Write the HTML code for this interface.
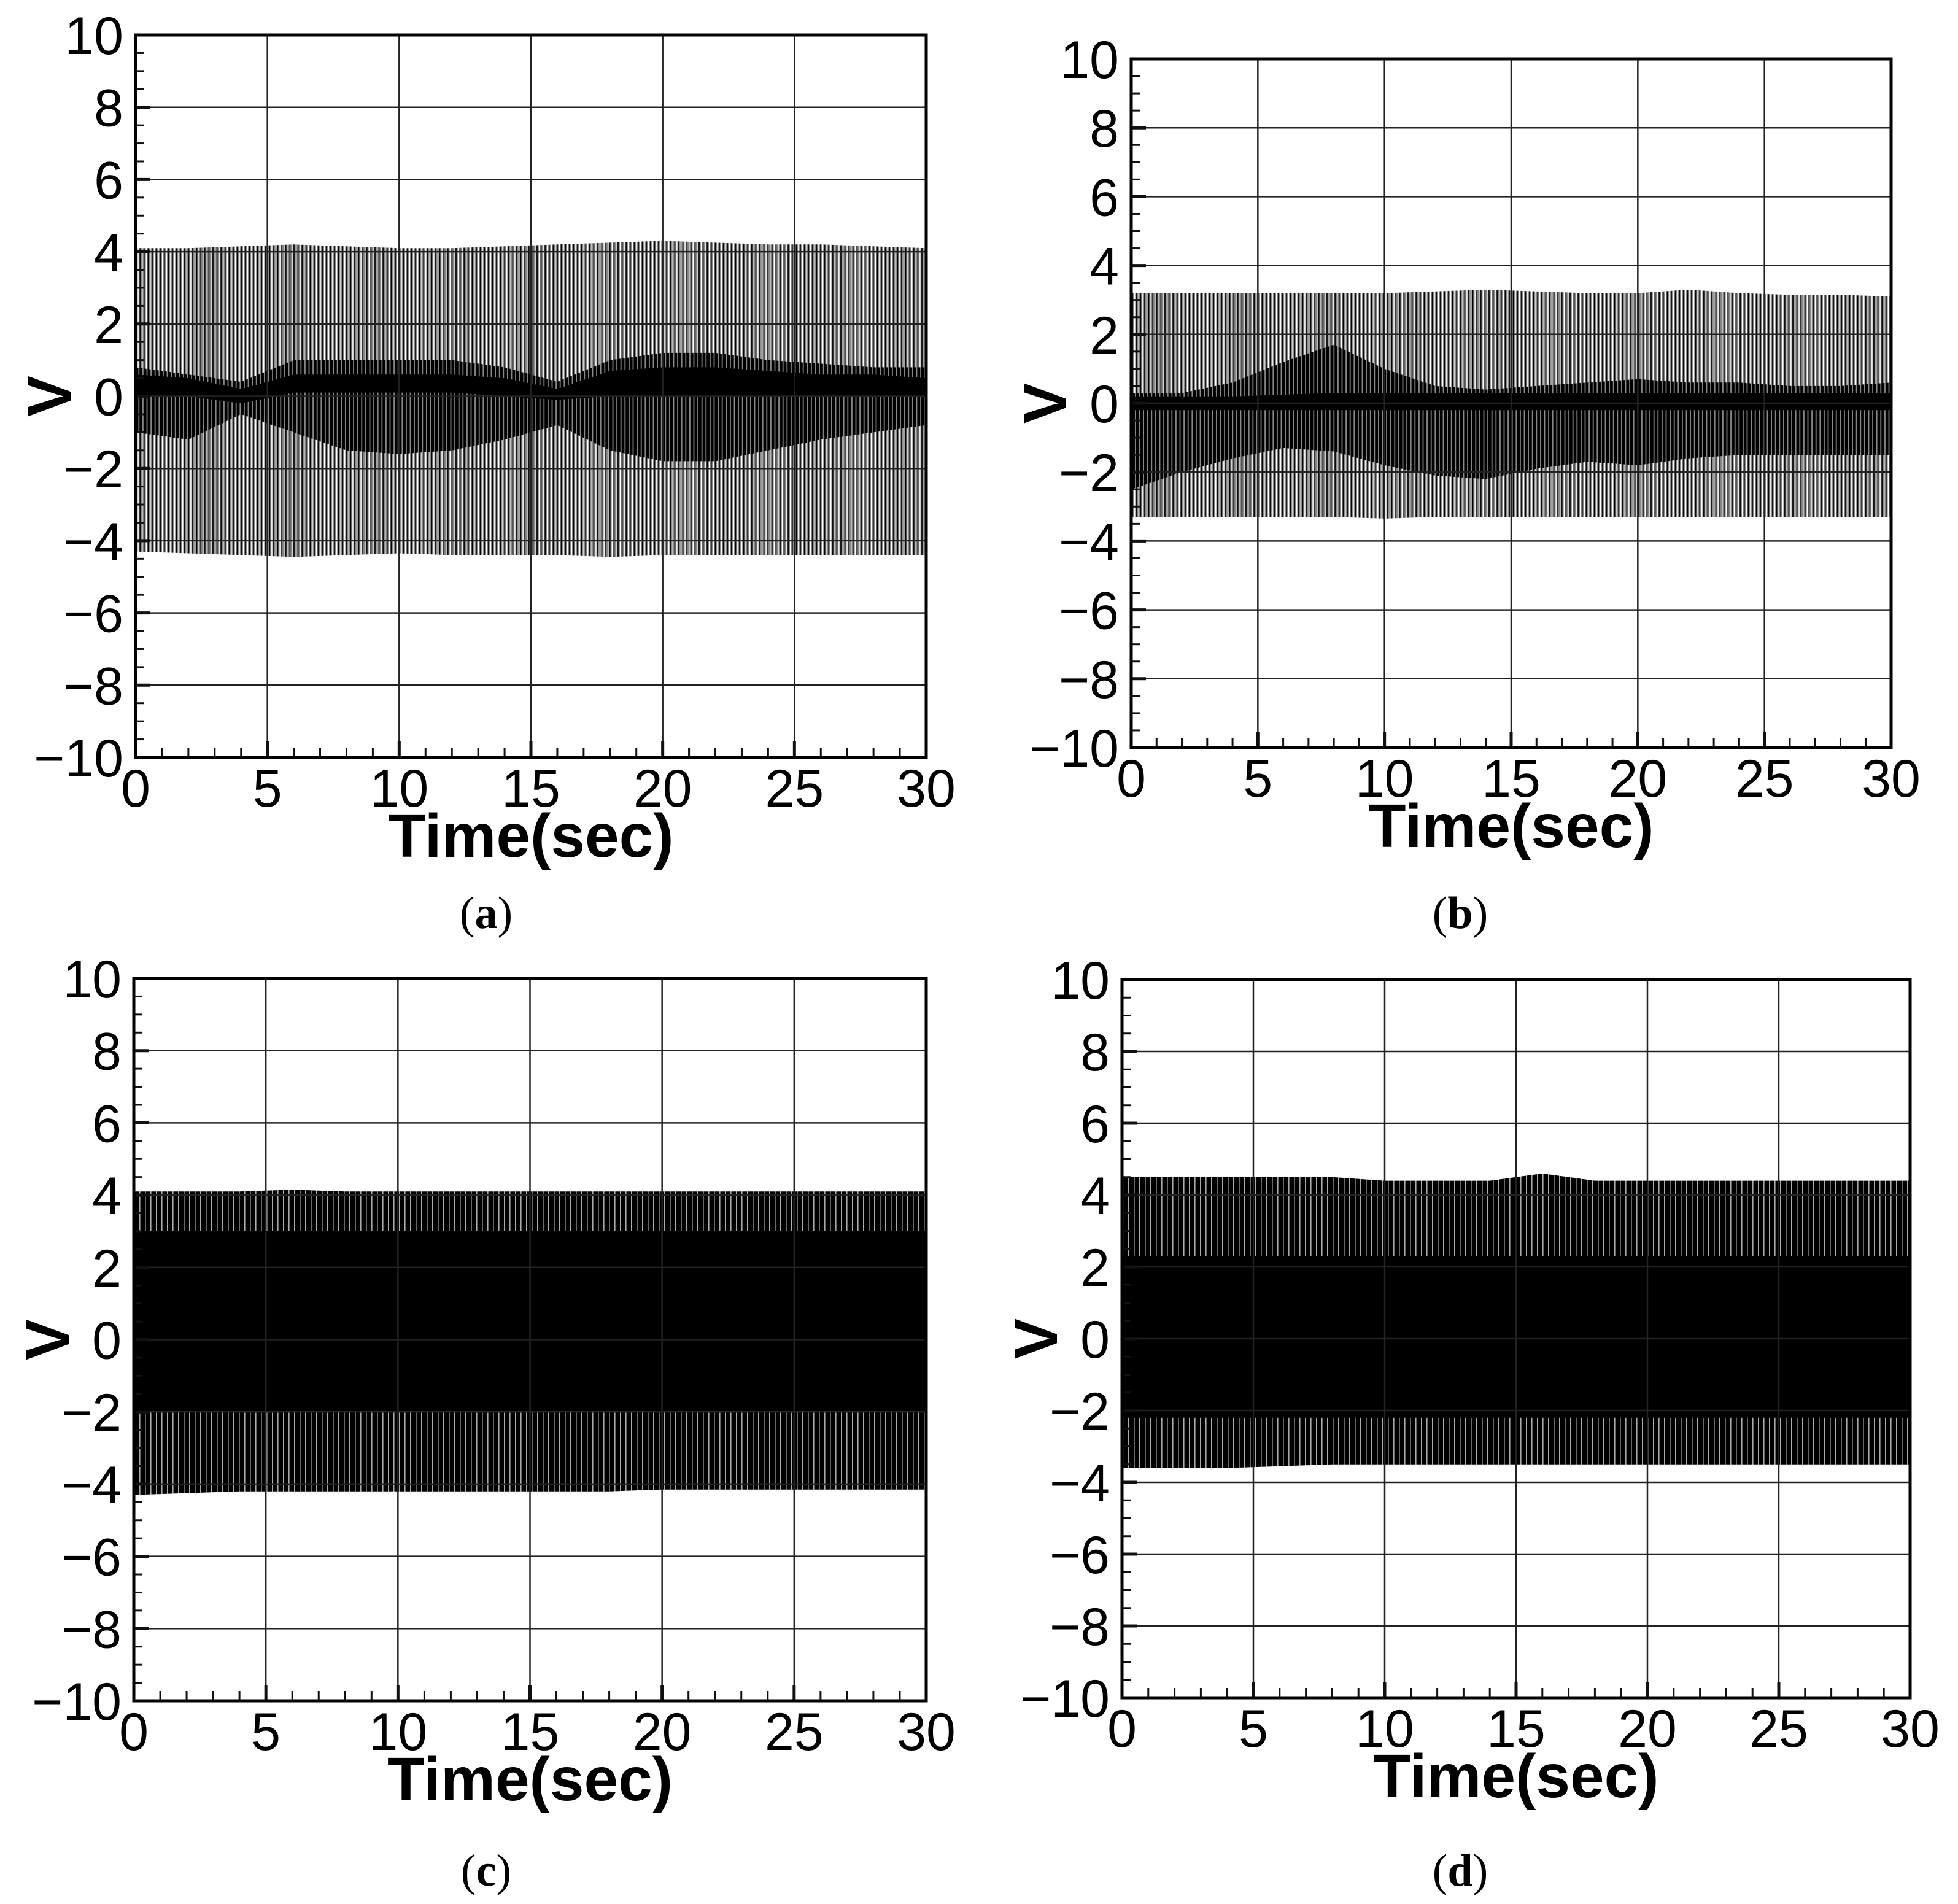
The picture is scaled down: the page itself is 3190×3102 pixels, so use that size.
<!DOCTYPE html>
<html><head><meta charset="utf-8"><style>
html,body{margin:0;padding:0;background:#fff;}
svg{display:block;}
</style></head><body>
<svg id="fig" width="3190" height="3102" viewBox="0 0 3190 3102" xmlns="http://www.w3.org/2000/svg">
<defs>
<pattern id="outerAB" patternUnits="userSpaceOnUse" width="6.6" height="10"><rect width="6.6" height="10" fill="#8a8a8a"/><rect x="0" width="1.4" height="10" fill="#fff"/><rect x="3" width="1.6" height="10" fill="#000"/></pattern>
<pattern id="midAB" patternUnits="userSpaceOnUse" width="6.6" height="10"><rect width="6.6" height="10" fill="#000"/><rect x="1" width="1.8" height="10" fill="#8a8a8a"/></pattern>
<pattern id="outerCD" patternUnits="userSpaceOnUse" width="9" height="10"><rect width="9" height="10" fill="#000"/><rect x="2" width="1.6" height="10" fill="#aaa"/></pattern>
</defs>
<g id="root"></g>
</svg>
<script>
const times = [0,2,4,6,8,10,12,14,16,18,20,22,24,26,28,30];
const aUpper = [4.1,4.1,4.15,4.2,4.15,4.1,4.1,4.15,4.2,4.25,4.3,4.25,4.2,4.2,4.15,4.1];
const aLower = [-4.3,-4.35,-4.4,-4.45,-4.4,-4.35,-4.4,-4.4,-4.4,-4.45,-4.4,-4.4,-4.4,-4.4,-4.4,-4.4];
const aMidUpper = [0.8,0.6,0.4,1.0,1.0,1.0,1.0,0.8,0.4,1.0,1.2,1.2,1.0,0.9,0.8,0.8];
const aMidLower = [-1.0,-1.2,-0.5,-1.0,-1.5,-1.6,-1.5,-1.2,-0.8,-1.5,-1.8,-1.8,-1.5,-1.2,-1.0,-0.8];
const aCoreUpper = [0.6,0.5,0.2,0.6,0.6,0.6,0.6,0.5,0.2,0.7,0.8,0.8,0.7,0.6,0.6,0.5];
const aCoreLower = [0.0,0.0,-0.2,0.1,0.1,0.1,0.1,0.0,-0.1,0.0,0.0,0.0,0.0,0.0,0.0,0.0];
const bUpper = [3.2,3.2,3.2,3.2,3.2,3.2,3.25,3.3,3.25,3.2,3.2,3.3,3.2,3.15,3.15,3.1];
const bLower = [-3.3,-3.3,-3.3,-3.3,-3.3,-3.35,-3.3,-3.3,-3.3,-3.3,-3.3,-3.3,-3.3,-3.3,-3.3,-3.3];
const bMidUpper = [0.3,0.3,0.6,1.2,1.7,1.0,0.5,0.4,0.5,0.6,0.7,0.6,0.6,0.5,0.5,0.6];
const bMidLower = [-2.5,-2.0,-1.6,-1.3,-1.4,-1.8,-2.1,-2.2,-1.9,-1.7,-1.8,-1.6,-1.5,-1.5,-1.5,-1.5];
const bCoreUpper = [0.2,0.2,0.2,0.25,0.3,0.3,0.3,0.3,0.3,0.3,0.3,0.3,0.3,0.3,0.3,0.3];
const bCoreLower = [-0.2,-0.2,-0.2,-0.2,-0.2,-0.2,-0.2,-0.2,-0.2,-0.2,-0.2,-0.2,-0.2,-0.2,-0.2,-0.2];
const cUpper = [4.1,4.1,4.1,4.15,4.1,4.1,4.1,4.1,4.1,4.1,4.1,4.1,4.1,4.1,4.1,4.1];
const cLower = [-4.3,-4.25,-4.2,-4.2,-4.2,-4.2,-4.2,-4.2,-4.2,-4.2,-4.15,-4.15,-4.15,-4.15,-4.15,-4.15];
const cCoreUpper = [3.0,3.0,3.0,3.0,3.0,3.0,3.0,3.0,3.0,3.0,3.0,3.0,3.0,3.0,3.0,3.0];
const cCoreLower = [-2.0,-2.0,-2.0,-2.0,-2.0,-2.0,-2.0,-2.0,-2.0,-2.0,-2.0,-2.0,-2.0,-2.0,-2.0,-2.0];
const dUpper = [4.5,4.5,4.5,4.5,4.5,4.4,4.4,4.4,4.6,4.4,4.4,4.4,4.4,4.4,4.4,4.4];
const dLower = [-3.6,-3.6,-3.6,-3.55,-3.5,-3.5,-3.5,-3.5,-3.5,-3.5,-3.5,-3.5,-3.5,-3.5,-3.5,-3.5];
const dCoreUpper = [2.3,2.3,2.3,2.3,2.3,2.3,2.3,2.3,2.3,2.3,2.3,2.3,2.3,2.3,2.3,2.3];
const dCoreLower = [-2.2,-2.2,-2.2,-2.2,-2.2,-2.2,-2.2,-2.2,-2.2,-2.2,-2.2,-2.2,-2.2,-2.2,-2.2,-2.2];
const yTicks = [-10,-8,-6,-4,-2,0,2,4,6,8,10];
const xTicks = [0,5,10,15,20,25,30];
const captions = ['a','b','c','d'];

const NS = 'http://www.w3.org/2000/svg';
const root = document.getElementById('root');
function mk(tag, attrs, parent){ const e=document.createElementNS(NS,tag); for(const k in attrs) e.setAttribute(k,attrs[k]); (parent||root).appendChild(e); return e; }

const panels = [
 {id:'a', L:221,R:1509,T:57,B:1234, cx:792, layers:[[aUpper,aLower,'url(#outerAB)'],[aMidUpper,aMidLower,'url(#midAB)'],[aCoreUpper,aCoreLower,'#000']]},
 {id:'b', L:1843,R:3081,T:96,B:1218, cx:2379, layers:[[bUpper,bLower,'url(#outerAB)'],[bMidUpper,bMidLower,'url(#midAB)'],[bCoreUpper,bCoreLower,'#000']]},
 {id:'c', L:218,R:1509,T:1594,B:2771, cx:792, layers:[[cUpper,cLower,'url(#outerCD)'],[cCoreUpper,cCoreLower,'#000']]},
 {id:'d', L:1828,R:3112,T:1596,B:2766, cx:2379, layers:[[dUpper,dLower,'url(#outerCD)'],[dCoreUpper,dCoreLower,'#000']]}
];

panels.forEach((p,pi)=>{
  const g = mk('g',{});
  
  
  const xs = t => p.L + (t/30)*(p.R-p.L);
  const ys = v => p.B - ((v+10)/20)*(p.B-p.T);
  p.layers.forEach((ly,li)=>{
    const [up,lo,fill]=ly;
    let d='M'+times.map((t,i)=>xs(t).toFixed(1)+','+ys(up[i]).toFixed(1)).join(' L');
    for(let i=times.length-1;i>=0;i--) d+=' L'+xs(times[i]).toFixed(1)+','+ys(lo[i]).toFixed(1);
    d+=' Z';
    const path = mk('path',{d:d, fill:fill, stroke:'none'}, g);
    
    
  });
  yTicks.forEach(v=>{
    if(v===-10||v===10) return;
    const l = mk('line',{x1:p.L,x2:p.R,y1:ys(v),y2:ys(v),stroke:'#222','stroke-width':2.5}, g);
    
    
  });
  xTicks.forEach(t=>{
    if(t===0||t===30) return;
    const l = mk('line',{x1:xs(t),x2:xs(t),y1:p.T,y2:p.B,stroke:'#222','stroke-width':2.5}, g);
    
    
  });
  for(let v=-10; v<=10; v+=0.5){
    const major = Math.abs(v%2)<1e-9;
    const l = mk('line',{x1:p.L,x2:p.L+(major?24:14),y1:ys(v),y2:ys(v),stroke:'#111','stroke-width':major?5:3}, g);
    
    
  }
  for(let t=0; t<=30; t+=1){
    const major = t%5===0;
    const l = mk('line',{x1:xs(t),x2:xs(t),y1:p.B,y2:p.B-(major?26:16),stroke:'#111','stroke-width':major?5:3}, g);
    
    
  }
  const frame = mk('rect',{x:p.L,y:p.T,width:p.R-p.L,height:p.B-p.T,fill:'none',stroke:'#000','stroke-width':5}, g);
  
  
  yTicks.forEach(v=>{
    const tx = mk('text',{x:p.L-20,y:ys(v)+31,'text-anchor':'end','font-family':'Liberation Sans, sans-serif','font-size':86,fill:'#000'}, g);
    tx.textContent = v<0 ? '\u2212'+Math.abs(v) : String(v);
    
    
  });
  xTicks.forEach(t=>{
    const tx = mk('text',{x:xs(t),y:p.B+80,'text-anchor':'middle','font-family':'Liberation Sans, sans-serif','font-size':86,fill:'#000'}, g);
    tx.textContent = String(t);
    
    
  });
  const xt = mk('text',{x:(p.L+p.R)/2,y:p.B+162,'text-anchor':'middle','font-family':'Liberation Sans, sans-serif','font-weight':'bold','font-size':100,fill:'#000'}, g);
  xt.textContent='Time(sec)';
  
  
  const yc = ys(0);
  const yt = mk('text',{x:0,y:0,transform:'translate('+(p.L-106)+','+yc+') rotate(-90)','text-anchor':'middle','font-family':'Liberation Sans, sans-serif','font-weight':'bold','font-size':100,fill:'#000'}, g);
  yt.textContent='V';
  
  
  const capY = pi<2 ? 1512 : 3072;
  const cap = mk('text',{x:p.cx,y:capY,'text-anchor':'middle','font-family':'Liberation Serif, serif','font-size':74,fill:'#000'}, g);
  cap.innerHTML = '(<tspan font-weight="bold">'+captions[pi]+'</tspan>)';
  
  
});
</script>
</body></html>
